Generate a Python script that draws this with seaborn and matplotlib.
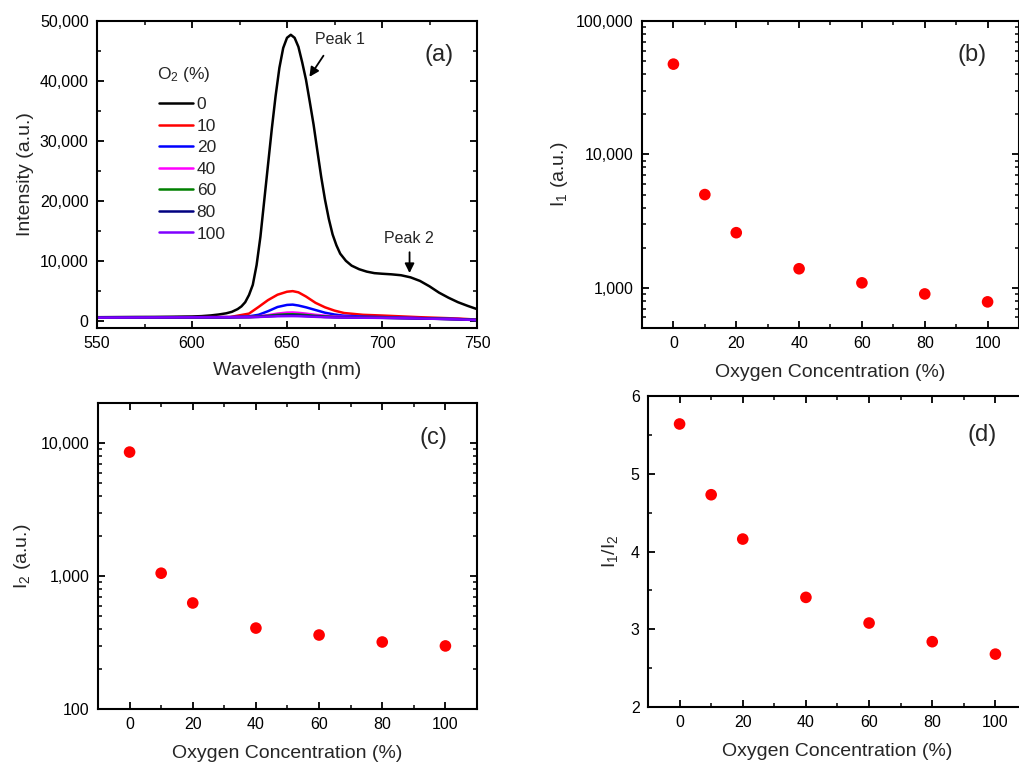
import numpy as np
import pandas as pd
import seaborn as sns
import matplotlib
matplotlib.use("Agg")
import matplotlib.pyplot as plt
from matplotlib.ticker import FuncFormatter, MultipleLocator, NullFormatter

# emission spectra, 0 % O2 (black curve)
wl_0 = [550, 560, 570, 580, 590, 600, 605, 610, 614, 618, 621, 624, 626, 628, 630,
        632, 634, 636, 638, 640, 642, 644, 646, 648, 650, 652, 654, 656, 658, 660,
        662, 664, 666, 668, 670, 672, 674, 676, 678, 681, 684, 688, 692, 696, 700,
        705, 710, 715, 720, 725, 730, 735, 740, 745, 750]
int_0 = [600, 620, 640, 650, 680, 720, 780, 900, 1050, 1250, 1500, 1950, 2400, 3100, 4300,
         6000, 9300, 14000, 20000, 26000, 32000, 37500, 42200, 45500, 47200, 47700, 47200, 45700, 43100, 40200,
         36500, 32700, 28300, 24000, 20200, 17000, 14400, 12600, 11200, 10000, 9200, 8600, 8200, 7950, 7850,
         7750, 7600, 7250, 6650, 5750, 4700, 3850, 3100, 2500, 1950]

# spectra with oxygen
wl_low = [550, 575, 600, 620, 630, 635, 640, 645, 650, 653, 656, 660, 665, 670, 675,
          680, 690, 700, 720, 740, 750]
int_10 = [550, 580, 600, 630, 1200, 2300, 3450, 4350, 4850, 4950, 4750, 4050, 3000, 2250, 1700,
          1300, 1000, 880, 600, 380, 200]
int_20 = [550, 580, 600, 620, 750, 1000, 1600, 2300, 2650, 2700, 2550, 2250, 1800, 1350, 1050,
          850, 700, 620, 450, 300, 150]
int_40 = [550, 580, 600, 610, 650, 750, 950, 1200, 1370, 1390, 1330, 1200, 1000, 850, 720,
          650, 580, 540, 430, 280, 150]
int_60 = [550, 580, 600, 600, 630, 700, 850, 1000, 1080, 1090, 1050, 960, 830, 720, 640,
          590, 540, 510, 410, 260, 130]
int_80 = [540, 570, 590, 595, 610, 660, 750, 840, 890, 900, 870, 810, 720, 640, 590,
          560, 520, 500, 400, 250, 120]
int_100 = [530, 560, 580, 590, 600, 640, 700, 760, 780, 785, 770, 720, 660, 600, 560,
           540, 510, 490, 390, 240, 110]

# peak intensities vs oxygen
o2 = [0, 10, 20, 40, 60, 80, 100]
i1 = [47500, 5000, 2590, 1390, 1090, 900, 785]
i2 = [8550, 1050, 627, 406, 360, 319, 298]
ratio = [5.64, 4.73, 4.16, 3.41, 3.08, 2.84, 2.68]

labels = ['0', '10', '20', '40', '60', '80', '100']
colores = ['black', '#ff0000', '#0000ff', '#ff00ff', '#008000', '#000080', '#8000ff']

sns.set_theme(style='ticks')
plt.rcParams['font.family'] = ['Liberation Sans', 'DejaVu Sans']
plt.rcParams['mathtext.fontset'] = 'custom'
plt.rcParams['mathtext.rm'] = 'Liberation Sans'
plt.rcParams['mathtext.it'] = 'Liberation Sans'
plt.rcParams['mathtext.default'] = 'regular'

partes = [pd.DataFrame({'wl': wl_0, 'I': int_0, 'O2': '0'})]
for lab, vals in zip(labels[1:], [int_10, int_20, int_40, int_60, int_80, int_100]):
    partes.append(pd.DataFrame({'wl': wl_low, 'I': vals, 'O2': lab}))
df = pd.concat(partes, ignore_index=True)

fig = plt.figure(figsize=(10.2, 7.62), dpi=100)
W, H = 1020, 762
def caixa(l, t, r, b):
    return [l / W, 1 - b / H, (r - l) / W, (b - t) / H]

ax_a = fig.add_axes(caixa(97, 21, 477, 328))
ax_b = fig.add_axes(caixa(642, 21, 1019, 328))
ax_c = fig.add_axes(caixa(98, 403, 477, 709))
ax_d = fig.add_axes(caixa(648, 396, 1027, 707))

virgula = FuncFormatter(lambda v, _: f'{v:,.0f}')

def estilo(ax):
    for s in ax.spines.values():
        s.set_linewidth(1.5)
        s.set_color('black')
    ax.tick_params(which='both', direction='in', top=True, right=True,
                   labelsize=11.5, colors='black', pad=6)
    ax.tick_params(which='major', length=5, width=1.3)
    ax.tick_params(which='minor', length=3, width=1.1)

# (a) spectra
sns.lineplot(data=df, x='wl', y='I', hue='O2', hue_order=labels, palette=colores,
             estimator=None, sort=True, linewidth=1.8, ax=ax_a)
ax_a.set_xlim(550, 750)
ax_a.set_ylim(-1200, 50000)
ax_a.xaxis.set_major_locator(MultipleLocator(50))
ax_a.xaxis.set_minor_locator(MultipleLocator(25))
ax_a.yaxis.set_major_locator(MultipleLocator(10000))
ax_a.yaxis.set_minor_locator(MultipleLocator(5000))
ax_a.yaxis.set_major_formatter(virgula)
ax_a.set_xlabel('Wavelength (nm)', fontsize=14, labelpad=8)
ax_a.set_ylabel('Intensity (a.u.)', fontsize=14, labelpad=4.5)
estilo(ax_a)
h, l = ax_a.get_legend_handles_labels()
ax_a.legend(h, l, frameon=False, fontsize=12.5,
            loc='upper left', bbox_to_anchor=(0.139, 0.781), borderpad=0,
            handlelength=2.0, handletextpad=0.2, labelspacing=0.37)
ax_a.text(0.229, 0.826, 'O$_2$ (%)', transform=ax_a.transAxes, fontsize=12.5,
          ha='center', va='center')
ax_a.text(0.9, 0.89, '(a)', transform=ax_a.transAxes, fontsize=17, ha='center', va='center')
ax_a.text(678, 45600, 'Peak 1', fontsize=11.5, ha='center', va='bottom')
ax_a.annotate('', xy=(661, 40300), xytext=(670, 44600),
              arrowprops=dict(arrowstyle='-|>', color='black', lw=1.3, mutation_scale=14))
ax_a.text(714, 12500, 'Peak 2', fontsize=11.5, ha='center', va='bottom')
ax_a.annotate('', xy=(714.5, 7500), xytext=(714.5, 11900),
              arrowprops=dict(arrowstyle='-|>', color='black', lw=1.3, mutation_scale=14))

# (b), (c), (d) scatter panels
paineis = [(ax_b, i1, 'I$_1$ (a.u.)', 4.5),
           (ax_c, i2, 'I$_2$ (a.u.)', 5.5),
           (ax_d, ratio, 'I$_1$/I$_2$', 8)]
for ax, vals, ylab, lp in paineis:
    sns.scatterplot(x=o2, y=vals, color='#ff0000', s=70, edgecolor='none', linewidth=0, ax=ax)
    ax.set_xlim(-10, 110)
    ax.xaxis.set_major_locator(MultipleLocator(20))
    ax.xaxis.set_minor_locator(MultipleLocator(10))
    ax.set_xlabel('Oxygen Concentration (%)', fontsize=14, labelpad=9)
    ax.set_ylabel(ylab, fontsize=14, labelpad=lp)
    estilo(ax)

ax_b.set_yscale('log')
ax_b.set_ylim(500, 100000)
ax_c.set_yscale('log')
ax_c.set_ylim(100, 20000)
for ax in (ax_b, ax_c):
    ax.yaxis.set_major_formatter(virgula)
    ax.yaxis.set_minor_formatter(NullFormatter())
ax_d.set_ylim(2, 6)
ax_d.yaxis.set_major_locator(MultipleLocator(1))
ax_d.yaxis.set_minor_locator(MultipleLocator(0.5))

fig.text(972 / W, 1 - 55 / H, '(b)', fontsize=17, ha='center', va='center')
fig.text(433 / W, 1 - 438 / H, '(c)', fontsize=17, ha='center', va='center')
fig.text(982 / W, 1 - 435 / H, '(d)', fontsize=17, ha='center', va='center')

fig.savefig('out.png', dpi=100)
